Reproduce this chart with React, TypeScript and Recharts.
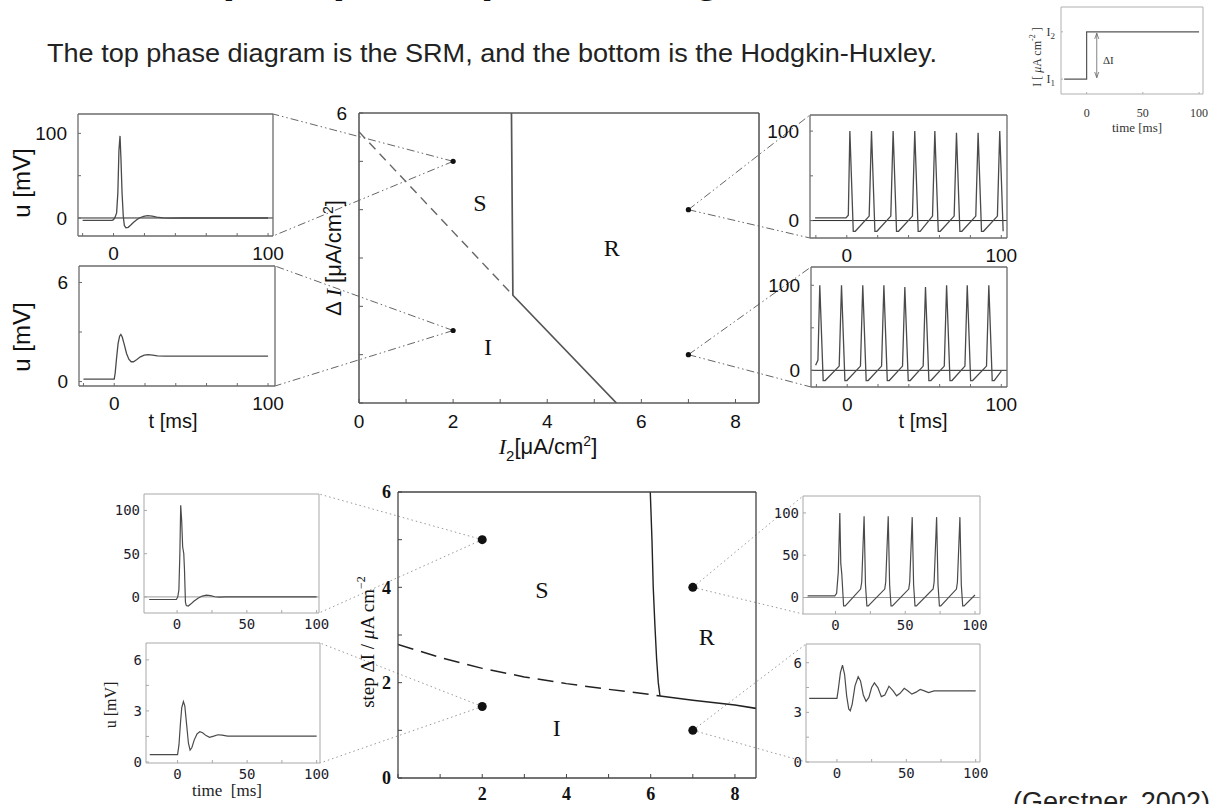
import React from "react";
import { ComposedChart, Line, XAxis, YAxis, ReferenceLine, Scatter } from "recharts";

type Pt = { t: number; u: number };
type XY = { x: number; y: number };
type LXY = { x: number; y: number; label: string };
type Box = { x: number; y: number; w: number; h: number };

// ---------------- data ----------------
// step current protocol (small inset, top right)
const stepCurrent: Pt[] = [
  { t: -20, u: 1 }, { t: 0, u: 1 }, { t: 0, u: 2 }, { t: 100, u: 2 },
];
const stepLevelTicks = [1, 2];
const stepLevelSubs = ["1", "2"];
const stepArrowT = 9;

// SRM traces
const srmSingleSpike: Pt[] = [
  { t: -20, u: -2.8 }, { t: -1, u: -2.8 }, { t: 0, u: -2 }, { t: 1, u: 1 }, { t: 2, u: 6 },
  { t: 2.8, u: 30 }, { t: 3.5, u: 80 }, { t: 4.2, u: 97 }, { t: 4.8, u: 70 }, { t: 5.5, u: 30 },
  { t: 6.3, u: 2 }, { t: 7, u: -9 }, { t: 8, u: -11.5 }, { t: 9.5, u: -11 }, { t: 11, u: -8.5 },
  { t: 13, u: -5 }, { t: 15, u: -2 }, { t: 17, u: 0.3 }, { t: 19.5, u: 2 }, { t: 22, u: 2.8 },
  { t: 25, u: 2.2 }, { t: 28, u: 1 }, { t: 32, u: 0.1 }, { t: 36, u: -0.2 }, { t: 45, u: 0 }, { t: 100, u: 0 },
];
const srmSubthreshold: Pt[] = [
  { t: -20, u: 0.15 }, { t: 0, u: 0.15 }, { t: 0.6, u: 0.5 }, { t: 1.5, u: 1.4 }, { t: 2.5, u: 2.3 },
  { t: 3.5, u: 2.75 }, { t: 4.3, u: 2.85 }, { t: 5.2, u: 2.7 }, { t: 6.5, u: 2.25 }, { t: 8, u: 1.7 },
  { t: 9.5, u: 1.35 }, { t: 11, u: 1.2 }, { t: 12.5, u: 1.2 }, { t: 14.5, u: 1.32 }, { t: 17, u: 1.5 },
  { t: 19.5, u: 1.6 }, { t: 22, u: 1.63 }, { t: 25, u: 1.6 }, { t: 28, u: 1.56 }, { t: 33, u: 1.54 }, { t: 100, u: 1.54 },
];
const srmRepetitiveA: Pt[] = [
  { t: -20.5, u: 3 }, { t: -0.5, u: 3 }, { t: 1, u: 6 }, { t: 2, u: 100 }, { t: 4.2, u: -12 }, { t: 5.5, u: -12 },
  { t: 14.5, u: 5 }, { t: 16, u: 100 }, { t: 18.2, u: -12 }, { t: 19.5, u: -12 },
  { t: 28.5, u: 5 }, { t: 30, u: 100 }, { t: 32.2, u: -12 }, { t: 33.5, u: -12 },
  { t: 42.5, u: 5 }, { t: 44, u: 100 }, { t: 46.2, u: -12 }, { t: 47.5, u: -12 },
  { t: 55.5, u: 5 }, { t: 57, u: 100 }, { t: 59.2, u: -12 }, { t: 60.5, u: -12 },
  { t: 69.5, u: 5 }, { t: 71, u: 98 }, { t: 73.2, u: -12 }, { t: 74.5, u: -12 },
  { t: 83.5, u: 5 }, { t: 85, u: 98 }, { t: 87.2, u: -12 }, { t: 88.5, u: -12 },
  { t: 97.5, u: 5 }, { t: 99, u: 100 }, { t: 101.2, u: -12 },
];
const srmRepetitiveB: Pt[] = [
  { t: -20.5, u: 6 }, { t: -19, u: 12 }, { t: -17.8, u: 100 }, { t: -15.6, u: -12 }, { t: -14.3, u: -12 },
  { t: -5.2, u: 5 }, { t: -3.7, u: 100 }, { t: -1.5, u: -12 }, { t: -0.2, u: -12 },
  { t: 8.6, u: 5 }, { t: 10.1, u: 100 }, { t: 12.3, u: -12 }, { t: 13.6, u: -12 },
  { t: 22.3, u: 5 }, { t: 23.8, u: 100 }, { t: 26, u: -12 }, { t: 27.3, u: -12 },
  { t: 35.9, u: 5 }, { t: 37.4, u: 98 }, { t: 39.6, u: -12 }, { t: 40.9, u: -12 },
  { t: 49.3, u: 5 }, { t: 50.8, u: 98 }, { t: 53, u: -12 }, { t: 54.3, u: -12 },
  { t: 63, u: 5 }, { t: 64.5, u: 100 }, { t: 66.7, u: -12 }, { t: 68, u: -12 },
  { t: 76.4, u: 5 }, { t: 77.9, u: 100 }, { t: 80.1, u: -12 }, { t: 81.4, u: -12 },
  { t: 90.4, u: 5 }, { t: 91.9, u: 100 }, { t: 94.1, u: -12 }, { t: 95.4, u: -12 }, { t: 100, u: -1 },
];

// Hodgkin-Huxley traces
const hhSingleSpike: Pt[] = [
  { t: -20, u: -3 }, { t: -0.5, u: -3 }, { t: 0.5, u: 0 }, { t: 1.3, u: 8 }, { t: 2, u: 50 },
  { t: 2.6, u: 106 }, { t: 3.3, u: 88 }, { t: 4, u: 58 }, { t: 4.8, u: 50 }, { t: 5.3, u: 32 },
  { t: 6, u: -6 }, { t: 6.6, u: -10 }, { t: 8, u: -10.5 }, { t: 10, u: -8 }, { t: 12, u: -5 },
  { t: 15, u: -1.5 }, { t: 18, u: 1 }, { t: 21, u: 2 }, { t: 24, u: 1.5 }, { t: 27, u: 0.2 },
  { t: 30, u: -0.3 }, { t: 35, u: 0 }, { t: 100, u: 0 },
];
const hhSubthreshold: Pt[] = [
  { t: -20, u: 0.43 }, { t: 0, u: 0.43 }, { t: 1, u: 1.0 }, { t: 2, u: 2.2 }, { t: 3, u: 3.2 },
  { t: 4.2, u: 3.55 }, { t: 5.2, u: 3.3 }, { t: 6.5, u: 2.2 }, { t: 7.8, u: 1.1 }, { t: 9, u: 0.7 },
  { t: 10.3, u: 0.85 }, { t: 12, u: 1.3 }, { t: 14, u: 1.65 }, { t: 16, u: 1.78 }, { t: 18, u: 1.72 },
  { t: 20.5, u: 1.55 }, { t: 23, u: 1.45 }, { t: 26, u: 1.52 }, { t: 29, u: 1.6 }, { t: 32, u: 1.58 },
  { t: 36, u: 1.52 }, { t: 100, u: 1.52 },
];
const hhRepetitive: Pt[] = [
  { t: -20, u: 2 }, { t: -0.5, u: 2 }, { t: 0.8, u: 5 }, { t: 2, u: 30 }, { t: 3.1, u: 100 },
  { t: 3.8, u: 40 }, { t: 4.5, u: 28 }, { t: 5.8, u: -10 }, { t: 7, u: -10 },
  { t: 18, u: 10 }, { t: 18.8, u: 18 }, { t: 20.5, u: 96 }, { t: 21.5, u: 15 }, { t: 22.5, u: -10 }, { t: 23.5, u: -10 },
  { t: 35.3, u: 10 }, { t: 36, u: 18 }, { t: 37.8, u: 96 }, { t: 38.8, u: 15 }, { t: 39.8, u: -10 }, { t: 40.8, u: -10 },
  { t: 52.5, u: 10 }, { t: 53.2, u: 18 }, { t: 55, u: 95 }, { t: 56, u: 15 }, { t: 57, u: -10 }, { t: 58, u: -10 },
  { t: 70, u: 10 }, { t: 70.7, u: 18 }, { t: 72.5, u: 95 }, { t: 73.5, u: 15 }, { t: 74.5, u: -10 }, { t: 75.5, u: -10 },
  { t: 86.7, u: 10 }, { t: 87.4, u: 18 }, { t: 89.2, u: 95 }, { t: 90.2, u: 15 }, { t: 91.2, u: -10 }, { t: 92.2, u: -10 },
  { t: 100, u: 3 },
];
const hhDamped: Pt[] = [
  { t: -20, u: 3.84 }, { t: 0, u: 3.84 }, { t: 1, u: 4.4 }, { t: 2.5, u: 5.4 }, { t: 4, u: 5.85 },
  { t: 5.5, u: 5.3 }, { t: 7, u: 4.0 }, { t: 8.5, u: 3.2 }, { t: 9.6, u: 3.1 }, { t: 11, u: 3.5 },
  { t: 13, u: 4.6 }, { t: 15.3, u: 5.15 }, { t: 17, u: 4.9 }, { t: 19, u: 4.05 }, { t: 21, u: 3.67 },
  { t: 23, u: 3.9 }, { t: 25, u: 4.5 }, { t: 27, u: 4.78 }, { t: 29.5, u: 4.5 }, { t: 32, u: 3.95 },
  { t: 34.5, u: 4.05 }, { t: 37.5, u: 4.58 }, { t: 40.5, u: 4.3 }, { t: 43, u: 4.0 }, { t: 45.5, u: 4.15 },
  { t: 48.5, u: 4.45 }, { t: 51, u: 4.3 }, { t: 54, u: 4.1 }, { t: 57, u: 4.22 }, { t: 60, u: 4.38 },
  { t: 63, u: 4.3 }, { t: 66, u: 4.2 }, { t: 70, u: 4.3 }, { t: 100, u: 4.3 },
];

// phase diagrams
const probePoints: XY[] = [{ x: 2, y: 5 }, { x: 2, y: 1.5 }, { x: 7, y: 4 }, { x: 7, y: 1 }];
const srmThresholdDashed: XY[] = [{ x: 0, y: 5.61 }, { x: 3.27, y: 2.23 }];
const srmBoundarySolid: XY[] = [{ x: 3.24, y: 6 }, { x: 3.27, y: 2.23 }, { x: 5.47, y: 0 }];
const srmRegionLabels: LXY[] = [
  { x: 2.57, y: 4.14, label: "S" }, { x: 5.37, y: 3.2, label: "R" }, { x: 2.74, y: 1.16, label: "I" },
];
const hhOnsetSolid: XY[] = [
  { x: 5.99, y: 6 }, { x: 6.03, y: 5 }, { x: 6.06, y: 4 }, { x: 6.1, y: 3.2 }, { x: 6.14, y: 2.5 },
  { x: 6.18, y: 2.0 }, { x: 6.22, y: 1.72 },
];
const hhThresholdDashed: XY[] = [
  { x: 0, y: 2.8 }, { x: 1, y: 2.53 }, { x: 2, y: 2.3 }, { x: 3, y: 2.12 }, { x: 4, y: 1.98 },
  { x: 5, y: 1.86 }, { x: 6, y: 1.75 }, { x: 6.22, y: 1.72 },
];
const hhLowerSolid: XY[] = [{ x: 6.22, y: 1.72 }, { x: 7, y: 1.63 }, { x: 8, y: 1.53 }, { x: 8.5, y: 1.46 }];
const hhRegionLabels: LXY[] = [
  { x: 3.42, y: 3.94, label: "S" }, { x: 7.33, y: 2.96, label: "R" }, { x: 3.77, y: 1.05, label: "I" },
];

// ticks
const phaseXTicks = [0, 1, 2, 3, 4, 5, 6, 7, 8];
const srmPhaseXLabels = ["0", "", "2", "", "4", "", "6", "", "8"];
const hhPhaseXLabels = ["", "", "2", "", "4", "", "6", "", "8"];
const phaseYTicks = [0, 1, 2, 3, 4, 5, 6];
const srmPhaseYLabels = ["", "", "", "", "", "", "6"];
const hhPhaseYLabels = ["0", "", "2", "", "4", "", "6"];
const srmTimeTicks = [-20, 0, 20, 40, 60, 80, 100];
const srmTimeLabels = ["", "0", "", "", "", "", "100"];
const hhTimeTicks = [0, 25, 50, 75, 100];
const hhTimeLabels = ["0", "", "50", "", "100"];
const stepTimeTicks = [0, 50, 100];
const stepTimeLabels = ["0", "50", "100"];
const spikeYTicks = [0, 50, 100];
const srmSpikeYLabels = ["0", "", "100"];
const hhSpikeYLabels = ["0", "50", "100"];
const srmSubYTicks = [0, 3, 6];
const srmSubYLabels = ["0", "", "6"];
const hhSubYTicks = [0, 1.5, 3, 4.5, 6];
const hhSubYLabels = ["0", "", "3", "", "6"];

// ---------------- layout ----------------
const SANS = "Liberation Sans, Arial, Helvetica, sans-serif";
const SERIF = "Liberation Serif, Times New Roman, serif";
const MONO = "DejaVu Sans Mono, monospace";

const P1: Box = { x: 359, y: 113, w: 400, h: 290 };
const P2: Box = { x: 398, y: 492, w: 358, h: 286 };
const PX: [number, number] = [0, 8.5];
const PY: [number, number] = [0, 6];

const A1: Box = { x: 78, y: 114, w: 195, h: 122 };
const A2: Box = { x: 79, y: 266, w: 196, h: 120 };
const A3: Box = { x: 810, y: 115, w: 197, h: 123 };
const A4: Box = { x: 811, y: 267, w: 196, h: 120 };
const A5: Box = { x: 144, y: 494, w: 175, h: 119 };
const A6: Box = { x: 146, y: 643, w: 174, h: 120 };
const A7: Box = { x: 803, y: 496, w: 177, h: 118 };
const A8: Box = { x: 806, y: 644, w: 174, h: 118 };
const STEP: Box = { x: 1061, y: 7, w: 142, h: 87 };

type InsetStyle = {
  frame: string; frameW: number; trace: string; traceW: number; zero: string;
  tick: any; tickLen: number; xGap: number; yGap: number; frameDash?: string;
};
const SRM_STYLE: InsetStyle = {
  frame: "#6b6b6b", frameW: 1.3, trace: "#4a4a4a", traceW: 1.3, zero: "#2a2a2a",
  tick: { fontSize: 19, fontFamily: SANS, fill: "#111" }, tickLen: 3, xGap: 11, yGap: 11,
};
const HH_STYLE: InsetStyle = {
  frame: "#a8a8a8", frameW: 1, trace: "#4a4a4a", traceW: 1.2, zero: "#9a9a9a",
  tick: { fontSize: 14, fontFamily: MONO, fill: "#1c1c2c" }, tickLen: 3, xGap: 6, yGap: 4,
};
const STEP_STYLE: InsetStyle = {
  frame: "#b0b0b0", frameW: 1, trace: "#555", traceW: 1.2, zero: "#999",
  tick: { fontSize: 12, fontFamily: SERIF, fill: "#333" }, tickLen: 2, xGap: 14, yGap: 6,
};

function labelOf(ticks: number[], labels: string[]) {
  return (v: number) => {
    const i = ticks.indexOf(v);
    return i >= 0 ? labels[i] : "";
  };
}

function TraceInset(props: {
  box: Box; data: Pt[]; xDomain: [number, number]; yDomain: [number, number];
  xTicks: number[]; xLabels: string[]; yTicks: number[]; yLabels: string[];
  zeroLine?: boolean; s: InsetStyle; yTickRender?: any; children?: React.ReactNode;
}) {
  const { box, data, xDomain, yDomain, xTicks, xLabels, yTicks, yLabels, zeroLine, s } = props;
  const L = 80, R = 12, T = 12, B = 50;
  const axisLine = { stroke: s.frame, strokeWidth: s.frameW, strokeDasharray: s.frameDash };
  const tickLine = { stroke: s.frame, strokeWidth: 1 };
  return (
    <div style={{ position: "absolute", left: box.x - L, top: box.y - T }}>
      <ComposedChart width={box.w + L + R} height={box.h + T + B} margin={{ top: T - 1, right: R - 1, bottom: 0, left: 0 }}>
        <XAxis xAxisId="b" dataKey="t" type="number" domain={xDomain} allowDataOverflow ticks={xTicks} interval={0}
          height={B} tickSize={-s.tickLen} tickMargin={s.xGap + s.tickLen} tick={s.tick}
          tickFormatter={labelOf(xTicks, xLabels)} axisLine={axisLine} tickLine={tickLine} />
        <XAxis xAxisId="t" orientation="top" dataKey="t" type="number" domain={xDomain} allowDataOverflow ticks={xTicks}
          interval={0} height={1} tickSize={-s.tickLen} tick={false} axisLine={axisLine} tickLine={tickLine} />
        <YAxis yAxisId="l" dataKey="u" type="number" domain={yDomain} allowDataOverflow ticks={yTicks} interval={0}
          width={L} tickSize={-s.tickLen} tickMargin={s.yGap + s.tickLen}
          tick={props.yTickRender ? props.yTickRender : s.tick}
          tickFormatter={labelOf(yTicks, yLabels)} axisLine={axisLine} tickLine={tickLine} />
        <YAxis yAxisId="r" orientation="right" dataKey="u" type="number" domain={yDomain} allowDataOverflow ticks={yTicks}
          interval={0} width={1} tickSize={-s.tickLen} tick={false} axisLine={axisLine} tickLine={tickLine} />
        {zeroLine ? <ReferenceLine xAxisId="b" yAxisId="l" y={0} stroke={s.zero} strokeWidth={1} /> : null}
        {props.children}
        <Line xAxisId="b" yAxisId="l" data={data} dataKey="u" type="linear" dot={false} stroke={s.trace}
          strokeWidth={s.traceW} isAnimationActive={false} />
      </ComposedChart>
    </div>
  );
}

function toData(b: Box, px: number, py: number): XY {
  return {
    x: PX[0] + ((px - b.x) / b.w) * (PX[1] - PX[0]),
    y: PY[1] - ((py - b.y) / b.h) * (PY[1] - PY[0]),
  };
}

type PhaseLine = { data: XY[]; stroke: string; width: number; dash?: string };

function PhaseChart(props: {
  box: Box; top: number; height: number; xLabels: string[]; yLabels: string[];
  lines: PhaseLine[]; dotR: number; labels: LXY[]; connectors: { a: XY; b: XY }[];
  connColor: string; connDash: string; frame: string; frameW: number; tick: any;
  xGap: number; yGap: number; xH: number;
}) {
  const { box, top, height } = props;
  const YW = 60;
  const W = 1217;
  const axisLine = { stroke: props.frame, strokeWidth: props.frameW };
  const tickLine = { stroke: props.frame, strokeWidth: 1 };
  const plotBottom = box.y - top + box.h;
  return (
    <div style={{ position: "absolute", left: 0, top }}>
      <ComposedChart width={W} height={height}
        margin={{ top: box.y - top - 1, left: box.x - YW, right: W - box.x - box.w - 1, bottom: height - plotBottom - props.xH }}>
        <XAxis xAxisId="b" dataKey="x" type="number" domain={PX} allowDataOverflow ticks={phaseXTicks} interval={0}
          height={props.xH} tickSize={-4} tickMargin={props.xGap + 4} tick={props.tick}
          tickFormatter={labelOf(phaseXTicks, props.xLabels)} axisLine={axisLine} tickLine={tickLine} />
        <XAxis xAxisId="t" orientation="top" dataKey="x" type="number" domain={PX} allowDataOverflow ticks={phaseXTicks}
          interval={0} height={1} tickSize={-4} tick={false} axisLine={axisLine} tickLine={tickLine} />
        <YAxis yAxisId="l" dataKey="y" type="number" domain={PY} allowDataOverflow ticks={phaseYTicks} interval={0}
          width={YW} tickSize={-4} tickMargin={props.yGap + 4} tick={props.tick}
          tickFormatter={labelOf(phaseYTicks, props.yLabels)} axisLine={axisLine} tickLine={tickLine} />
        <YAxis yAxisId="r" orientation="right" dataKey="y" type="number" domain={PY} allowDataOverflow ticks={phaseYTicks}
          interval={0} width={1} tickSize={-4} tick={false} axisLine={axisLine} tickLine={tickLine} />
        {props.connectors.map((c, i) => (
          <ReferenceLine key={"c" + i} xAxisId="b" yAxisId="l" segment={[c.a, c.b]} ifOverflow="visible"
            stroke={props.connColor} strokeWidth={1} strokeDasharray={props.connDash} />
        ))}
        {props.lines.map((l, i) => (
          <Line key={"l" + i} xAxisId="b" yAxisId="l" data={l.data} dataKey="y" type="linear" dot={false}
            stroke={l.stroke} strokeWidth={l.width} strokeDasharray={l.dash} isAnimationActive={false} />
        ))}
        <Scatter xAxisId="b" yAxisId="l" data={probePoints} dataKey="y" isAnimationActive={false}
          shape={(p: any) => <circle cx={p.cx} cy={p.cy} r={props.dotR} fill="#111" />} />
        <Scatter xAxisId="b" yAxisId="l" data={props.labels} dataKey="y" isAnimationActive={false}
          shape={(p: any) => (
            <text x={p.cx} y={p.cy} textAnchor="middle" dominantBaseline="central" fontFamily={SERIF}
              fontSize={24} fill="#111">{p.payload.label}</text>
          )} />
      </ComposedChart>
    </div>
  );
}

export default function App() {
  const tr = (b: Box) => ({ x: b.x + b.w, y: b.y });
  const br = (b: Box) => ({ x: b.x + b.w, y: b.y + b.h });
  const tl = (b: Box) => ({ x: b.x, y: b.y });
  const bl = (b: Box) => ({ x: b.x, y: b.y + b.h });
  const mk = (P: Box, pi: number, c: { x: number; y: number }) => ({ a: probePoints[pi], b: toData(P, c.x, c.y) });

  const srmConn = [
    mk(P1, 0, tr(A1)), mk(P1, 0, br(A1)), mk(P1, 1, tr(A2)), mk(P1, 1, br(A2)),
    mk(P1, 2, tl(A3)), mk(P1, 2, bl(A3)), mk(P1, 3, tl(A4)), mk(P1, 3, bl(A4)),
  ];
  const hhConn = [
    mk(P2, 0, tr(A5)), mk(P2, 0, br(A5)), mk(P2, 1, tr(A6)), mk(P2, 1, br(A6)),
    mk(P2, 2, tl(A7)), mk(P2, 2, bl(A7)), mk(P2, 3, tl(A8)), mk(P2, 3, bl(A8)),
  ];

  const stepTick = (p: any) => {
    const i = stepLevelTicks.indexOf(p.payload.value);
    return (
      <text x={p.x} y={p.y} textAnchor="end" dominantBaseline="central" fontFamily={SERIF} fontSize={12} fill="#333">
        I<tspan fontSize={9} dy={4}>{stepLevelSubs[i]}</tspan>
      </text>
    );
  };

  return (
    <div style={{ position: "absolute", left: 0, top: 0, width: 1217, height: 804, overflow: "hidden", background: "#fff" }}>
      <PhaseChart box={P1} top={0} height={480} xLabels={srmPhaseXLabels} yLabels={srmPhaseYLabels}
        lines={[
          { data: srmThresholdDashed, stroke: "#666", width: 1.4, dash: "9 6" },
          { data: srmBoundarySolid, stroke: "#555", width: 1.7 },
        ]}
        dotR={2.6} labels={srmRegionLabels} connectors={srmConn} connColor="#666" connDash="8 3 1.5 3 1.5 3"
        frame="#5a5a5a" frameW={1.6} tick={{ fontSize: 19, fontFamily: SANS, fill: "#111" }} xGap={12} yGap={12} xH={40} />
      <PhaseChart box={P2} top={400} height={404} xLabels={hhPhaseXLabels} yLabels={hhPhaseYLabels}
        lines={[
          { data: hhThresholdDashed, stroke: "#222", width: 1.5, dash: "16 8" },
          { data: hhOnsetSolid, stroke: "#222", width: 1.4 },
          { data: hhLowerSolid, stroke: "#222", width: 1.6 },
        ]}
        dotR={4.5} labels={hhRegionLabels} connectors={hhConn} connColor="#999" connDash="1.5 3"
        frame="#444" frameW={1.3} tick={{ fontSize: 18, fontFamily: SERIF, fontWeight: "bold", fill: "#111" }}
        xGap={9} yGap={7} xH={26} />

      <TraceInset box={A1} data={srmSingleSpike} xDomain={[-23, 103.2]} yDomain={[-21.3, 122.9]}
        xTicks={srmTimeTicks} xLabels={srmTimeLabels} yTicks={spikeYTicks} yLabels={srmSpikeYLabels} zeroLine s={SRM_STYLE} />
      <TraceInset box={A2} data={srmSubthreshold} xDomain={[-22.9, 104.5]} yDomain={[-0.27, 7.0]}
        xTicks={srmTimeTicks} xLabels={srmTimeLabels} yTicks={srmSubYTicks} yLabels={srmSubYLabels} s={SRM_STYLE} />
      <TraceInset box={A3} data={srmRepetitiveA} xDomain={[-23.8, 103.7]} yDomain={[-19.5, 118]}
        xTicks={srmTimeTicks} xLabels={srmTimeLabels} yTicks={spikeYTicks} yLabels={srmSpikeYLabels} zeroLine s={SRM_STYLE} />
      <TraceInset box={A4} data={srmRepetitiveB} xDomain={[-23.5, 103.7]} yDomain={[-19.6, 121.5]}
        xTicks={srmTimeTicks} xLabels={srmTimeLabels} yTicks={spikeYTicks} yLabels={srmSpikeYLabels} zeroLine s={SRM_STYLE} />

      <TraceInset box={A5} data={hhSingleSpike} xDomain={[-23.7, 101.7]} yDomain={[-18.6, 119]}
        xTicks={hhTimeTicks} xLabels={hhTimeLabels} yTicks={spikeYTicks} yLabels={hhSpikeYLabels} zeroLine s={HH_STYLE} />
      <TraceInset box={A6} data={hhSubthreshold} xDomain={[-22.7, 102.4]} yDomain={[-0.06, 6.99]}
        xTicks={hhTimeTicks} xLabels={hhTimeLabels} yTicks={hhSubYTicks} yLabels={hhSubYLabels} s={HH_STYLE} />
      <TraceInset box={A7} data={hhRepetitive} xDomain={[-23.3, 103.6]} yDomain={[-19.5, 120]}
        xTicks={hhTimeTicks} xLabels={hhTimeLabels} yTicks={spikeYTicks} yLabels={hhSpikeYLabels} zeroLine s={HH_STYLE} />
      <TraceInset box={A8} data={hhDamped} xDomain={[-22.3, 103.1]} yDomain={[0, 7.13]}
        xTicks={hhTimeTicks} xLabels={hhTimeLabels} yTicks={hhSubYTicks} yLabels={hhSubYLabels} s={HH_STYLE} />

      <TraceInset box={STEP} data={stepCurrent} xDomain={[-22.8, 103.5]} yDomain={[0.685, 2.525]}
        xTicks={stepTimeTicks} xLabels={stepTimeLabels} yTicks={stepLevelTicks} yLabels={stepLevelSubs}
        s={STEP_STYLE} yTickRender={stepTick}>
        <ReferenceLine xAxisId="b" yAxisId="l" segment={[{ x: stepArrowT, y: stepLevelTicks[0] + 0.03 }, { x: stepArrowT, y: stepLevelTicks[1] - 0.03 }]}
          stroke="#666" strokeWidth={0.8} ifOverflow="visible" />
        <ReferenceLine xAxisId="b" yAxisId="l" segment={[{ x: stepArrowT - 1.8, y: stepLevelTicks[1] - 0.15 }, { x: stepArrowT, y: stepLevelTicks[1] - 0.03 }]}
          stroke="#666" strokeWidth={0.8} ifOverflow="visible" />
        <ReferenceLine xAxisId="b" yAxisId="l" segment={[{ x: stepArrowT + 1.8, y: stepLevelTicks[1] - 0.15 }, { x: stepArrowT, y: stepLevelTicks[1] - 0.03 }]}
          stroke="#666" strokeWidth={0.8} ifOverflow="visible" />
        <ReferenceLine xAxisId="b" yAxisId="l" segment={[{ x: stepArrowT - 1.8, y: stepLevelTicks[0] + 0.15 }, { x: stepArrowT, y: stepLevelTicks[0] + 0.03 }]}
          stroke="#666" strokeWidth={0.8} ifOverflow="visible" />
        <ReferenceLine xAxisId="b" yAxisId="l" segment={[{ x: stepArrowT + 1.8, y: stepLevelTicks[0] + 0.15 }, { x: stepArrowT, y: stepLevelTicks[0] + 0.03 }]}
          stroke="#666" strokeWidth={0.8} ifOverflow="visible" />
      </TraceInset>

      <svg width={1217} height={804} style={{ position: "absolute", left: 0, top: 0, pointerEvents: "none", overflow: "visible" }}>
        <text x={151} y={-9} fontFamily={SANS} fontWeight="bold" fontSize={46} fill="#111">
          Step response phase diagrams: SRM and HH
        </text>
        <text x={47} y={62} fontFamily={SANS} fontSize={25} fill="#222" textLength={890} lengthAdjust="spacingAndGlyphs">
          The top phase diagram is the SRM, and the bottom is the Hodgkin-Huxley.
        </text>
        <text x={1013} y={811} fontFamily={SANS} fontSize={27} fill="#222" textLength={197} lengthAdjust="spacingAndGlyphs">
          (Gerstner, 2002)
        </text>

        {/* SRM inset labels */}
        <text transform="translate(30,183) rotate(-90)" textAnchor="middle" fontFamily={SANS} fontSize={24} fill="#111">u [mV]</text>
        <text transform="translate(30,337) rotate(-90)" textAnchor="middle" fontFamily={SANS} fontSize={24} fill="#111">u [mV]</text>
        <text x={173} y={428} textAnchor="middle" fontFamily={SANS} fontSize={20} fill="#111">t [ms]</text>
        <text x={923} y={428} textAnchor="middle" fontFamily={SANS} fontSize={20} fill="#111">t [ms]</text>

        {/* SRM phase axis labels */}
        <text transform="translate(341,258) rotate(-90)" textAnchor="middle" fontFamily={SANS} fontSize={22} fill="#111">
          Δ <tspan fontFamily={SERIF} fontStyle="italic">I</tspan> [μA/cm<tspan fontSize={14} dy={-8}>2</tspan><tspan dy={8}>]</tspan>
        </text>
        <text x={548} y={454} textAnchor="middle" fontFamily={SANS} fontSize={22} fill="#111">
          <tspan fontFamily={SERIF} fontStyle="italic">I</tspan><tspan fontSize={15} dy={7}>2</tspan><tspan dy={-7}>[μA/cm</tspan><tspan fontSize={14} dy={-8}>2</tspan><tspan dy={8}>]</tspan>
        </text>

        {/* HH phase axis label */}
        <text transform="translate(374,642) rotate(-90)" textAnchor="middle" fontFamily={SERIF} fontSize={19} fill="#111">
          step ΔI / <tspan fontStyle="italic">μ</tspan>A cm<tspan fontSize={12} dy={-9}>−2</tspan>
        </text>

        {/* HH inset labels */}
        <text transform="translate(116,705) rotate(-90)" textAnchor="middle" fontFamily={SERIF} fontSize={16} fill="#222">u [mV]</text>
        <text x={227} y={796} textAnchor="middle" fontFamily={SERIF} fontSize={17} fill="#222">time{"\u00a0\u00a0"}[ms]</text>

        {/* step inset labels */}
        <text transform="translate(1041,57) rotate(-90)" textAnchor="middle" fontFamily={SERIF} fontSize={12} fill="#333">
          I [ <tspan fontStyle="italic">μ</tspan>A cm<tspan fontSize={8} dy={-6}>-2</tspan><tspan dy={6}> ]</tspan>
        </text>
        <text x={1137} y={132} textAnchor="middle" fontFamily={SERIF} fontSize={13} fill="#333">time [ms]</text>
        <text x={1103} y={64} fontFamily={SERIF} fontSize={11} fill="#333">ΔI</text>
      </svg>
    </div>
  );
}
